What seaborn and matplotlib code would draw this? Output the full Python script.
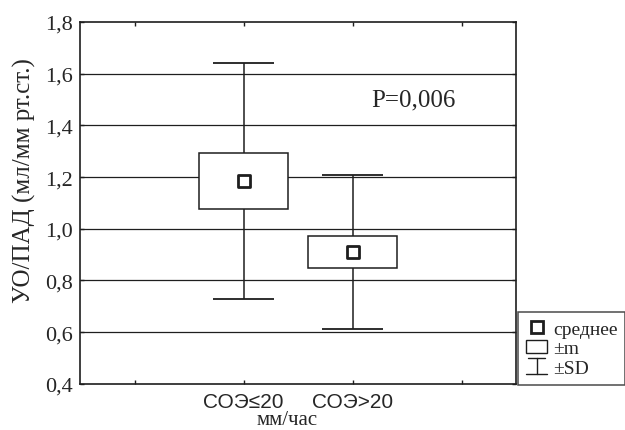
import matplotlib
matplotlib.use("Agg")
import matplotlib.pyplot as plt
import matplotlib.patches as mpatches
from matplotlib.lines import Line2D
from matplotlib.legend_handler import HandlerBase
import numpy as np
import pandas as pd
import seaborn as sns

# Группы по СОЭ
categories = ["СОЭ≤20", "СОЭ>20"]
means = [1.185, 0.91]
sem = [0.108, 0.063]        # ±m
sd = [0.458, 0.298]         # ±SD
y_ticks = [0.4, 0.6, 0.8, 1.0, 1.2, 1.4, 1.6, 1.8]
p_text = "P=0,006"

sns.set_style("ticks")
plt.rcParams["font.family"] = ["Liberation Serif", "DejaVu Serif"]

fig = plt.figure(figsize=(6.25, 4.31), dpi=100)
ax = fig.add_axes([0.128, 0.107, 0.6976, 0.8396])

df = pd.DataFrame({"group": categories, "mean": means, "m": sem, "sd": sd})
x = np.arange(len(categories))
ink = "#1e1e1e"

# Горизонтальная сетка
for yv in y_ticks[1:-1]:
    ax.axhline(yv, color=ink, lw=0.9, zorder=0)

# ±SD: вертикальные линии и засечки
ax.vlines(x, df["mean"] - df["sd"], df["mean"] + df["sd"], color=ink, lw=1.1, zorder=1)
cap = 0.28
ax.hlines(df["mean"] + df["sd"], x - cap, x + cap, color=ink, lw=1.3, zorder=1)
ax.hlines(df["mean"] - df["sd"], x - cap, x + cap, color=ink, lw=1.3, zorder=1)

# ±m: прямоугольники
ax.bar(x, 2 * df["m"], bottom=df["mean"] - df["m"], width=0.82,
       color="white", edgecolor=ink, linewidth=1.1, zorder=2)

# Среднее
sns.scatterplot(data=df.assign(xpos=x), x="xpos", y="mean", ax=ax, marker="s",
                s=75, color="white", edgecolor=ink, linewidth=2.0, zorder=3,
                legend=False)

ax.set_xlim(-1.5, 2.5)
ax.set_ylim(0.4, 1.8)
ax.set_yticks(y_ticks)
ax.set_yticklabels([f"{v:.1f}".replace(".", ",") for v in y_ticks],
                   fontsize=16)
ax.set_xticks([-1, 0, 1, 2])
ax.set_xticklabels(["", categories[0], categories[1], ""],
                   fontsize=15, family=["Liberation Sans", "DejaVu Sans"])
ax.tick_params(axis="both", direction="in", length=3, width=1, color=ink,
               top=True, right=True, pad=5)
ax.tick_params(axis="x", pad=6)
ax.set_xlabel("")
ax.set_ylabel("УО/ПАД (мл/мм рт.ст.)", fontsize=18)
ax.yaxis.set_label_coords(-0.102, 0.564)
for s in ax.spines.values():
    s.set_color(ink)
    s.set_linewidth(1.2)

ax.text(0.4, 0.262, "мм/час", transform=ax.transData, ha="center",
        va="center", fontsize=15, clip_on=False)
ax.text(1.56, 1.50, p_text, ha="center", va="center", fontsize=18)


class WhiskerHandler(HandlerBase):
    def create_artists(self, legend, orig_handle, xdescent, ydescent,
                       width, height, fontsize, trans):
        cx = xdescent + width / 2
        w = width * 0.5
        top = Line2D([cx - w * 0.8, cx + w * 0.8], [height * 1.1] * 2,
                     color=ink, lw=1.0, transform=trans)
        mid = Line2D([cx, cx], [-ydescent - 1, height * 1.1], color=ink, lw=1.0,
                     transform=trans)
        bot = Line2D([cx - w, cx + w], [-ydescent - 1] * 2, color=ink, lw=1.0,
                     transform=trans)
        return [top, mid, bot]


h_mean = Line2D([], [], marker="s", ls="none", markersize=9,
                markerfacecolor="white", markeredgecolor=ink,
                markeredgewidth=2.0)
h_m = mpatches.Rectangle((0, 0), 1, 1, facecolor="white", edgecolor=ink,
                         linewidth=1.0)
h_sd = object()
leg = fig.legend([h_mean, h_m, h_sd], ["среднее", "±m", "±SD"],
                 handler_map={h_sd: WhiskerHandler()},
                 loc="lower left", bbox_to_anchor=(0.829, 0.105),
                 fontsize=14, frameon=True, fancybox=False,
                 handlelength=1.1, handleheight=0.7, handletextpad=0.3,
                 labelspacing=0.1, borderpad=0.4, borderaxespad=0)
leg.get_frame().set_edgecolor(ink)
leg.get_frame().set_linewidth(1.1)

fig.savefig("out.png", dpi=100, facecolor="white")
